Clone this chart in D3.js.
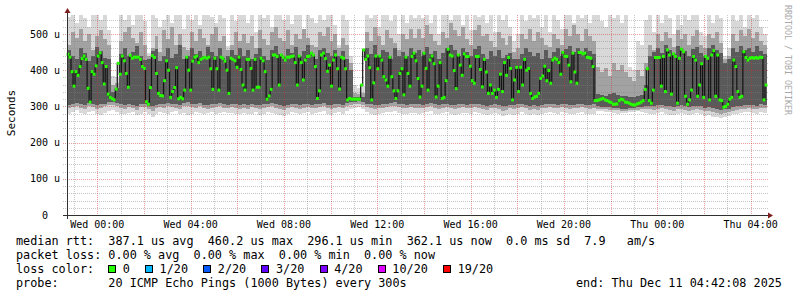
<!DOCTYPE html>
<html>
<head>
<meta charset="utf-8">
<script src="https://cdn.jsdelivr.net/npm/d3@7"></script>
<style>
	body { margin: 0; background: #ffffff; }
	text { font-family: 'DejaVu Sans Mono', monospace; white-space: pre; }
</style>
</head>
<body>
<div id="graph"></div>
<script>

// median rtt, one value per rrd step (us)
const median = [
	444,436,396,356,396,386,410,432,439,430,350,312,396,389,412,439,448,421,362,410,
	334,325,321,318,348,419,389,439,426,391,353,441,433,436,436,436,430,410,405,313,
	306,352,440,435,391,336,330,329,371,426,400,325,341,352,407,321,325,321,345,436,
	400,345,425,436,439,421,430,433,436,433,436,404,347,433,404,345,436,433,425,400,
	336,433,430,426,408,
	436,402,359,345,430,430,405,345,430,353,353,433,426,396,320,329,347,442,442,438,
	359,442,436,428,436,436,438,439,421,359,439,421,373,428,438,439,447,442,410,322,
	343,442,447,432,397,414,356,428,442,404,348,436,433,404,318,322,320,320,320,320,
	320,359,456,430,439,407,318,365,439,404,439,428,382,373,356,436,382,343,322,343,
	391,404,332,436,391,356,438,
	447,426,377,326,356,447,405,345,428,439,418,326,356,421,322,325,371,458,442,439,
	399,349,442,414,386,445,438,438,411,371,364,438,438,402,354,430,395,336,359,336,
	345,325,347,389,341,421,386,435,405,318,373,408,341,408,359,430,400,405,336,322,
	326,328,336,377,384,411,371,399,364,428,433,430,421,389,449,439,438,414,368,447,
	395,364,449,449,445,447,436,435,
	433,410,316,316,318,320,322,318,316,313,311,306,306,307,316,320,318,312,311,309,
	306,304,304,307,309,312,316,347,404,316,309,345,435,435,435,356,438,341,456,442,
	334,445,438,309,433,458,451,328,306,318,345,438,428,328,359,418,325,438,433,318,
	442,454,328,442,318,316,298,300,306,320,325,428,410,341,325,328,451,435,428,433,
	435,433,435,433,436,435,318,359
];

// smoke, one value per two steps (us), from the outer pings inwards
const smokeHi = [
	548,552,530,552,545,520,552,552,538,552,510,385,380,552,540,552,525,552,552,535,448,552,
	545,520,540,552,530,552,552,515,552,540,552,525,552,552,548,530,552,545,468,552,535,552,
	552,530,552,505,552,545,552,520,552,552,540,552,528,552,552,515,552,545,530,552,540,552,
	552,525,470,552,538,440,360,352,356,552,545,552,520,552,552,535,552,500,552,530,552,545,
	552,545,552,530,552,500,552,552,540,552,552,525,552,510,552,548,552,530,552,505,552,540,
	552,520,480,500,552,535,552,545,552,520,552,505,552,540,515,552,552,530,552,545,552,530,
	552,552,535,520,552,545,552,530,552,410,400,480,470,540,552,505,552,530,552,545,500,552,
	525,552,540,552,552,505,495,552,530,552,545,440,460,552,535,552,520,552,545,552,520,500
];
const smokeUp2 = [
	470,505,490,515,480,500,455,495,510,485,470,360,365,480,505,520,490,475,505,470,440,460,
	495,450,510,485,520,470,500,465,455,505,480,515,490,470,500,520,480,495,455,470,505,480,
	500,475,495,460,510,485,470,505,520,490,480,510,470,500,485,515,490,470,465,505,495,520,
	480,500,460,490,470,420,338,335,338,505,480,520,495,470,510,490,475,455,500,485,515,490,
	515,490,525,500,480,470,505,490,530,510,495,520,485,470,510,525,495,500,480,465,505,490,
	470,495,450,460,500,485,515,480,505,490,470,465,500,485,470,515,495,525,500,480,515,495,
	480,410,395,405,385,420,400,415,395,380,370,400,385,420,470,455,500,480,505,490,465,510,
	485,500,470,495,510,470,460,500,490,505,475,430,440,500,480,510,495,515,490,505,480,470
];
const smokeUp1 = [
	455,438,430,462,448,425,440,465,452,435,430,340,350,445,460,438,450,466,440,428,430,452,
	458,425,440,462,435,445,470,430,440,460,445,452,438,465,450,440,462,428,440,455,442,460,
	440,455,430,445,462,438,428,455,466,445,432,458,448,465,440,452,470,445,430,455,460,448,
	438,455,440,452,430,400,326,325,326,462,445,470,440,455,450,432,460,440,450,438,462,448,
	455,440,465,445,452,430,448,460,470,455,440,462,450,438,458,468,445,432,452,440,455,435,
	442,448,430,432,445,460,450,440,448,432,455,435,450,462,440,458,466,450,460,445,462,452,
	445,335,332,330,334,336,332,330,328,326,325,330,332,360,440,450,462,448,470,455,445,468,
	460,452,440,458,465,448,440,462,470,455,448,420,430,462,450,468,455,462,450,466,452,445
];
const smokeLo1 = [
	305,308,310,306,305,310,307,304,306,308,312,312,310,306,304,308,305,302,306,308,302,300,
	305,308,306,310,308,306,305,310,312,308,306,310,305,304,306,308,310,306,305,308,306,304,
	306,304,308,305,304,306,308,310,306,304,302,305,308,306,304,306,308,305,306,308,310,305,
	303,306,308,305,310,312,313,314,312,308,306,304,305,306,308,310,312,308,306,305,308,306,
	306,305,308,310,306,304,306,308,305,304,306,308,305,306,308,306,304,302,305,306,304,300,
	302,305,303,306,308,305,302,304,302,305,306,308,306,305,307,306,304,305,306,308,305,304,
	306,300,298,298,297,296,295,294,294,295,296,297,298,300,302,300,304,305,302,300,298,302,
	304,300,298,300,302,300,296,298,295,292,290,292,294,298,300,302,304,305,304,302,306,305
];
const smokeLo2 = [
	296,298,300,295,294,300,298,292,296,300,304,303,300,296,293,299,296,290,297,298,292,288,
	295,299,296,300,298,295,294,300,302,298,296,300,295,293,296,298,300,296,295,298,296,294,
	296,292,298,296,293,296,299,300,296,293,290,295,298,296,293,296,299,295,296,298,300,295,
	292,296,298,295,300,304,306,307,304,298,296,293,295,296,298,300,302,298,296,295,298,296,
	296,295,298,300,296,293,296,298,295,292,296,298,295,296,298,296,293,290,295,296,293,288,
	291,295,292,296,298,295,291,294,291,295,296,298,296,295,297,296,293,295,296,298,295,293,
	296,294,292,292,291,290,289,288,288,289,290,291,292,294,292,290,294,295,292,290,288,292,
	294,290,288,290,292,290,286,288,285,282,280,282,284,288,290,292,294,295,294,292,296,295
];
const smokeLo = [
	280,285,290,282,278,284,286,280,275,282,288,290,285,280,278,283,285,276,280,284,278,272,
	280,285,282,278,284,286,280,282,276,280,284,282,278,283,285,280,282,284,281,283,280,278,
	282,278,280,284,276,280,285,283,279,276,274,280,284,282,278,281,285,280,282,285,286,280,
	276,282,285,280,288,292,296,298,294,284,280,276,278,282,284,285,288,282,280,278,283,281,
	280,282,285,286,280,278,282,284,280,276,280,283,282,280,285,282,279,276,280,282,278,274,
	276,280,275,280,284,280,276,279,276,280,282,285,282,280,284,282,279,280,282,285,280,278,
	280,288,286,285,284,282,280,281,283,284,285,286,284,282,280,278,282,284,280,276,275,280,
	282,278,276,280,282,278,274,276,272,270,268,270,274,278,280,282,284,285,282,280,284,282
];

const yTicks = [0, 100, 200, 300, 400, 500];
const yTickLabels = ['0  ', '100 u', '200 u', '300 u', '400 u', '500 u'];

const lossLabels = ['0', '1/20', '2/20', '3/20', '4/20', '10/20', '19/20'];
const lossColors = ['#26ff00', '#00b8ff', '#0059ff', '#5e00ff', '#7e00ff', '#dd00ff', '#ff0000'];

const legendRtt = 'median rtt:  387.1 us avg  460.2 us max  296.1 us min  362.1 us now  0.0 ms sd  7.9   am/s';
const legendLoss = 'packet loss: 0.00 % avg  0.00 % max  0.00 % min  0.00 % now';
const legendProbe = 'probe:       20 ICMP Echo Pings (1000 Bytes) every 300s';
const legendEnd = 'end: Thu Dec 11 04:42:08 2025';

const graphStart = new Date(2025, 11, 9, 22, 42, 8);
const graphEnd = new Date(2025, 11, 11, 4, 42, 8);

const _config = {
	plot: { left: 67, right: 767, top: 15, bottom: 215 },
	yMax: 552.5,
	charWidth: 7.12,
	theme: {
		smoke: ['#d8d8d8', '#a2a2a2', '#5a5a5a'],
		medianLine: '#141414',
		grid: 'rgba(128,128,128,0.45)',
		mgrid: 'rgba(210,40,40,0.45)',
		axis: '#303030',
		arrow: '#7f1f1f',
		font: '#000000',
		watermark: '#a8a8a8',
	},
};

const theme = _config.theme;
const plot = _config.plot;

const svg = d3.select('#graph')
	.append('svg')
	.attr('width', 797)
	.attr('height', 297);

const x = d3.scaleTime().domain([graphStart, graphEnd]).range([plot.left, plot.right]);
const y = d3.scaleLinear().domain([0, _config.yMax]).range([plot.bottom, plot.top]).clamp(true);

// values are spread evenly over the graph window
const stepTime = (i, n) => new Date(+graphStart + i * (graphEnd - graphStart) / n);

// smoke
const smokeBands = [
	{ lo: smokeLo, hi: smokeHi, fill: theme.smoke[0] },
	{ lo: smokeLo2, hi: smokeUp2, fill: theme.smoke[1] },
	{ lo: smokeLo1, hi: smokeUp1, fill: theme.smoke[2] },
];

const smokeG = svg.append('g').attr('shape-rendering', 'crispEdges');
smokeBands.forEach(band => {
	const n = band.hi.length;
	smokeG.append('g')
		.selectAll('rect')
		.data(band.hi)
		.join('rect')
		.attr('x', (d, i) => Math.round(x(stepTime(i, n))))
		.attr('width', (d, i) => Math.round(x(stepTime(i + 1, n))) - Math.round(x(stepTime(i, n))))
		.attr('y', d => Math.round(y(d)))
		.attr('height', (d, i) => Math.round(y(band.lo[i])) - Math.round(y(d)))
		.attr('fill', band.fill);
});

// grid
const gridG = svg.append('g');

gridG.selectAll('.hgrid')
	.data(d3.range(20, _config.yMax, 20))
	.join('line')
	.attr('x1', plot.left - 4)
	.attr('x2', plot.right + 1)
	.attr('y1', d => Math.round(y(d)) + 0.5)
	.attr('y2', d => Math.round(y(d)) + 0.5)
	.attr('stroke', d => d % 100 === 0 ? theme.mgrid : theme.grid)
	.attr('stroke-dasharray', '1,1');

gridG.selectAll('.vgrid')
	.data(d3.timeHour.range(graphStart, graphEnd))
	.join('line')
	.attr('x1', d => Math.round(x(d)) + 0.5)
	.attr('x2', d => Math.round(x(d)) + 0.5)
	.attr('y1', plot.top)
	.attr('y2', plot.bottom)
	.attr('stroke', d => d.getHours() % 2 === 0 ? theme.mgrid : theme.grid)
	.attr('stroke-dasharray', '1,1');

// median
const medianPoints = median.map((v, i) => ({ t: stepTime(i, median.length), v: v }));
medianPoints.push({ t: graphEnd, v: median[median.length - 1] });

svg.append('path')
	.datum(medianPoints)
	.attr('d', d3.line().x(d => x(d.t)).y(d => y(d.v)).curve(d3.curveStepAfter))
	.attr('fill', 'none')
	.attr('stroke', theme.medianLine)
	.attr('stroke-width', 1.2);

svg.append('g')
	.selectAll('rect')
	.data(median)
	.join('rect')
	.attr('x', (d, i) => x(stepTime(i, median.length)) - 0.4)
	.attr('width', (d, i) => x(stepTime(i + 1, median.length)) - x(stepTime(i, median.length)) + 0.8)
	.attr('y', d => y(d) - 1.5)
	.attr('height', 3)
	.attr('fill', lossColors[0]);

// axes
svg.append('line')
	.attr('x1', plot.left - 4).attr('x2', plot.right + 1)
	.attr('y1', plot.bottom + 0.5).attr('y2', plot.bottom + 0.5)
	.attr('stroke', theme.axis);

svg.append('line')
	.attr('x1', plot.left + 0.5).attr('x2', plot.left + 0.5)
	.attr('y1', plot.bottom + 4).attr('y2', plot.top - 2)
	.attr('stroke', theme.axis);

svg.append('path')
	.attr('d', `M${plot.right + 1},${plot.bottom - 2.5}L${plot.right + 6},${plot.bottom + 0.5}L${plot.right + 1},${plot.bottom + 3.5}Z`)
	.attr('fill', theme.arrow);

svg.append('path')
	.attr('d', `M${plot.left - 2.5},${plot.top - 2}L${plot.left + 0.5},${plot.top - 7}L${plot.left + 3.5},${plot.top - 2}Z`)
	.attr('fill', theme.arrow);

// tick labels
svg.append('g')
	.selectAll('text')
	.data(yTicks)
	.join('text')
	.attr('x', plot.left - 7)
	.attr('y', d => y(d) + 3.6)
	.attr('text-anchor', 'end')
	.attr('font-size', '10px')
	.attr('fill', theme.font)
	.text((d, i) => yTickLabels[i]);

svg.append('g')
	.selectAll('text')
	.data(d3.timeHour.every(4).range(graphStart, graphEnd))
	.join('text')
	.attr('x', d => x(d))
	.attr('y', 228)
	.attr('text-anchor', 'middle')
	.attr('font-size', '10px')
	.attr('fill', theme.font)
	.text(d3.timeFormat('%a %H:%M'));

svg.append('text')
	.attr('transform', 'translate(15,113) rotate(-90)')
	.attr('text-anchor', 'middle')
	.attr('font-size', '11px')
	.attr('fill', theme.font)
	.text('Seconds');

svg.append('text')
	.attr('transform', 'translate(785,5) rotate(90)')
	.attr('font-size', '8.3px')
	.attr('fill', theme.watermark)
	.text('RRDTOOL / TOBI OETIKER');

// legend
const cw = _config.charWidth;
const legendG = svg.append('g')
	.attr('font-size', '11.8px')
	.attr('fill', theme.font);

legendG.append('text').attr('x', 16).attr('y', 245).text(legendRtt);
legendG.append('text').attr('x', 16).attr('y', 259).text(legendLoss);
legendG.append('text').attr('x', 16).attr('y', 273).text('loss color:');
legendG.append('text').attr('x', 16).attr('y', 287).text(legendProbe);
legendG.append('text').attr('x', 576).attr('y', 287).text(legendEnd);

let lossX = 16 + 15 * cw;
const lossPos = lossLabels.map(label => {
	const pos = lossX;
	lossX += label.length * cw + 29.7;
	return pos;
});

legendG.selectAll('.lossbox')
	.data(lossLabels)
	.join('rect')
	.attr('x', (d, i) => Math.round(lossPos[i] - 14.5) + 0.5)
	.attr('y', 265.5)
	.attr('width', 7)
	.attr('height', 7)
	.attr('fill', (d, i) => lossColors[i])
	.attr('stroke', '#000000')
	.attr('stroke-width', 1);

legendG.selectAll('.losstext')
	.data(lossLabels)
	.join('text')
	.attr('x', (d, i) => lossPos[i])
	.attr('y', 273)
	.text(d => d);

</script>
</body>
</html>
